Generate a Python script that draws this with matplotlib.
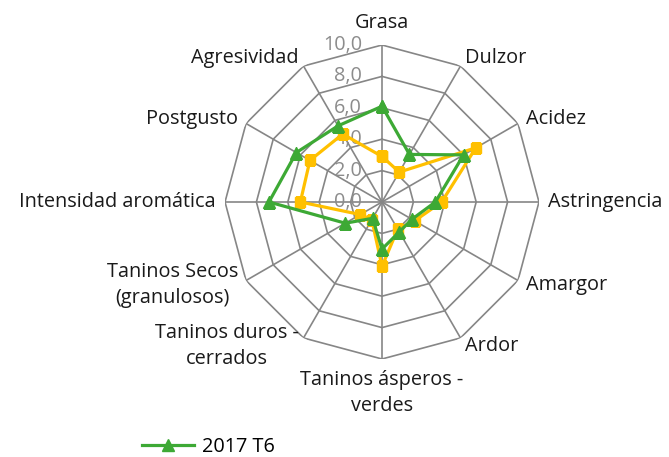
import numpy as np
import matplotlib
matplotlib.use("Agg")
import matplotlib.pyplot as plt
from matplotlib.lines import Line2D

categories = [
    "Grasa", "Dulzor", "Acidez", "Astringencia", "Amargor", "Ardor",
    "Taninos ásperos -\nverdes", "Taninos duros -\ncerrados",
    "Taninos Secos\n(granulosos)", "Intensidad aromática", "Postgusto",
    "Agresividad",
]
serie_t6 = [6.1, 3.5, 6.0, 3.4, 2.2, 2.2, 3.0, 1.2, 2.7, 7.2, 6.3, 5.6]
serie_ref = [2.9, 2.2, 6.9, 3.8, 2.4, 2.0, 4.1, 1.3, 1.6, 5.2, 5.3, 5.0]
levels = [0, 2, 4, 6, 8, 10]
level_labels = ["0,0", "2,0", "4,0", "6,0", "8,0", "10,0"]

GREEN = "#3DA935"
GOLD = "#FFC000"
GRID = "#868686"
TICK = "#8C8C8C"
FONT = "Open Sans"
FS = 14.3

W, H = 669, 457
fig = plt.figure(figsize=(W / 100, H / 100), dpi=100)
cx, cy, R = 382, 202, 157
ax = fig.add_axes([(cx - R) / W, (H - cy - R) / H, 2 * R / W, 2 * R / H],
                  projection="polar")
ax.set_theta_zero_location("N")
ax.set_theta_direction(-1)
ax.set_ylim(0, 10)
ax.grid(False)
ax.set_xticks([])
ax.set_yticks([])
ax.spines["polar"].set_visible(False)
ax.patch.set_alpha(0)

n = len(categories)
theta = np.arange(n) * 2 * np.pi / n
closed = np.append(theta, theta[0])

# polygonal rings and spokes
for lv in levels[1:]:
    ax.plot(closed, [lv] * (n + 1), color=GRID, lw=1.2, zorder=1)
for t in theta:
    ax.plot([t, t], [0, 10], color=GRID, lw=1.2, zorder=1)

# ring value labels along the vertical axis
for lv, lab in zip(levels, level_labels):
    ax.annotate(lab, xy=(0, lv), xytext=(-20, 0), textcoords="offset pixels",
                ha="right", va="center", fontsize=FS, color=TICK,
                family=FONT, zorder=2)

# series
ax.plot(closed, serie_ref + serie_ref[:1], color=GOLD, lw=2.3,
        marker="s", ms=7.5, zorder=3)
ax.plot(closed, serie_t6 + serie_t6[:1], color=GREEN, lw=2.3,
        marker="^", ms=8, zorder=4)

# category labels
for t, name in zip(theta, categories):
    s, c = np.sin(t), np.cos(t)
    if abs(s) < 1e-6:
        ha = "center"
        va = "bottom" if c > 0 else "top"
        d = 12 if c > 0 else 11
    else:
        ha = "left" if s > 0 else "right"
        va = "center"
        d = 9
    ax.annotate(name, xy=(t, 10), xytext=(d * s, d * c),
                textcoords="offset pixels", ha=ha, va=va,
                multialignment="center", fontsize=FS, color="#1A1A1A",
                family=FONT, linespacing=1.4)

handle = Line2D([], [], color=GREEN, lw=2.3, marker="^", ms=8)
fig.legend([handle], ["2017 T6"], loc="center left",
           bbox_to_anchor=(134 / W, 1 - 447 / H), frameon=False,
           prop={"family": FONT, "size": FS}, handlelength=2.6,
           handletextpad=0.4, borderaxespad=0)

fig.savefig("out.png", dpi=100, facecolor="white")
